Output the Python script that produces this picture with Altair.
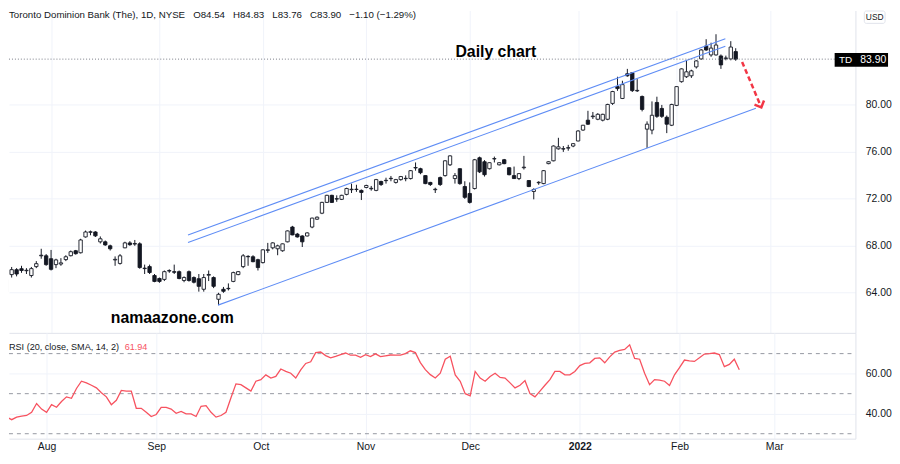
import altair as alt
import pandas as pd

# ---------------- data ----------------
idx = list(range(-9, 140))

opens = [64.1, 65.55, 65.97, 66.05, 65.88, 65.47, 66.23, 67.15, 67.15,
         66.9, 66.4, 66.45, 66.83, 67.16, 67.58, 67.41, 68.76, 69.15, 69.18,
         68.34, 68.34, 68.0, 66.8, 66.5, 67.83, 68.25, 68.15, 68.17, 66.1,
         66.23, 65.47, 65.22, 65.14, 65.85, 65.8, 65.8, 65.05, 65.8, 65.3,
         65.2, 64.3, 65.5, 65.3, 63.45, 64.3, 64.35, 64.97, 65.55, 66.23,
         67.1, 67.07, 66.82, 66.57, 67.62, 67.83, 67.75, 67.58, 68.34, 69.6,
         69.0, 68.84, 68.84, 69.6, 70.27, 70.78, 71.7, 72.3, 71.98, 71.96,
         72.38, 72.78, 72.8, 72.72, 72.97, 72.86, 72.72, 73.48, 73.55, 73.72,
         73.4, 73.64, 73.72, 73.73, 74.63, 74.57, 73.98, 73.4, 72.78, 73.81,
         73.98, 74.9, 73.73, 74.57, 73.05, 72.46, 72.88, 75.5, 75.16, 74.57,
         75.4, 74.9, 75.33, 74.65, 73.98, 73.73, 74.65, 73.56, 72.63, 73.37,
         73.3, 75.0, 75.24, 76.26, 76.24, 76.32, 76.5, 76.93, 77.86, 78.7,
         79.0, 78.78, 78.7, 78.78, 80.13, 81.56, 80.55, 82.65, 82.74, 81.2,
         80.72, 77.94, 77.86, 80.21, 79.7, 78.95, 78.27, 79.96, 81.98, 82.4,
         82.48, 83.24, 83.92, 85.01, 84.26, 84.26, 84.17, 83.95, 83.92, 84.54]

highs = [65.3, 66.2, 66.1, 66.3, 66.1, 66.2, 66.7, 67.75, 67.3,
         67.65, 66.9, 66.95, 67.2, 67.6, 67.65, 68.6, 69.3, 69.3, 69.25,
         68.8, 68.45, 68.1, 67.1, 67.3, 68.35, 68.4, 68.5, 68.3, 66.4,
         66.4, 65.6, 65.3, 65.9, 66.0, 66.4, 65.9, 65.4, 65.9, 65.4,
         65.6, 65.6, 65.9, 65.4, 64.0, 64.5, 64.8, 65.8, 65.85, 67.3,
         67.2, 67.2, 66.9, 67.7, 68.25, 68.3, 68.1, 68.2, 69.3, 69.7,
         69.1, 68.9, 69.15, 70.4, 70.5, 71.75, 72.35, 72.35, 72.3, 72.35,
         72.95, 73.3, 73.2, 72.8, 73.2, 73.1, 73.7, 73.55, 73.8, 73.95,
         73.7, 73.95, 74.0, 74.45, 75.1, 74.65, 74.0, 73.45, 72.95, 73.9,
         75.3, 75.7, 74.2, 74.6, 73.5, 73.4, 75.4, 75.6, 75.3, 75.1,
         75.6, 75.1, 75.4, 74.7, 74.75, 74.2, 75.66, 73.6, 72.9, 73.5,
         74.45, 75.2, 76.55, 77.2, 76.5, 76.6, 76.75, 77.85, 78.3, 79.5,
         79.4, 79.3, 79.25, 80.1, 81.2, 82.4, 82.06, 83.07, 82.8, 82.2,
         80.8, 78.6, 80.3, 80.7, 80.0, 79.1, 80.1, 81.6, 83.1, 83.83,
         83.0, 83.8, 84.75, 85.6, 85.3, 86.02, 84.3, 84.2, 85.43, 84.83]

lows = [63.9, 65.3, 65.4, 65.7, 65.6, 65.3, 66.1, 66.9, 66.3,
        65.9, 66.1, 66.3, 66.7, 67.1, 67.25, 67.35, 68.7, 68.9, 68.75,
        68.2, 68.0, 67.6, 66.3, 66.4, 67.8, 68.0, 68.0, 66.05, 65.6,
        65.6, 64.9, 64.85, 65.0, 65.7, 65.6, 65.15, 64.9, 64.95, 64.8,
        64.1, 64.1, 65.0, 64.4, 62.95, 64.0, 64.2, 64.9, 65.5, 66.1,
        66.3, 66.6, 65.9, 66.5, 67.4, 67.7, 67.2, 67.5, 68.3, 68.9,
        68.7, 67.9, 68.8, 69.5, 70.2, 70.7, 71.65, 71.65, 71.75, 71.9,
        72.3, 72.5, 72.6, 71.9, 72.9, 72.7, 72.65, 73.1, 73.3, 73.5,
        73.3, 73.55, 73.5, 73.65, 74.4, 74.1, 73.25, 73.1, 72.5, 73.1,
        73.9, 74.8, 73.3, 73.2, 72.0, 71.6, 72.8, 74.2, 73.9, 74.5,
        75.1, 74.85, 74.95, 74.0, 73.7, 73.6, 74.5, 73.0, 71.96, 73.2,
        73.25, 74.95, 75.2, 76.2, 76.0, 76.1, 76.4, 76.9, 77.8, 78.3,
        78.8, 78.7, 78.6, 78.7, 80.0, 81.2, 80.5, 82.4, 81.1, 81.1,
        79.45, 76.34, 77.5, 78.9, 78.9, 77.6, 78.2, 79.9, 81.9, 82.3,
        82.3, 83.1, 83.85, 84.6, 84.1, 84.2, 83.07, 83.8, 83.8, 83.76]

closes = [65.1, 65.97, 65.6, 65.9, 65.92, 66.06, 66.48, 67.2, 66.4,
          66.0, 66.8, 66.55, 67.07, 67.5, 67.33, 68.5, 69.18, 69.2, 68.85,
          68.6, 68.08, 67.75, 66.85, 67.15, 68.25, 68.1, 68.2, 66.15, 66.06,
          65.73, 64.97, 64.97, 65.8, 65.9, 65.75, 65.22, 65.3, 65.05, 64.9,
          64.55, 65.3, 65.56, 64.55, 63.87, 64.13, 64.38, 65.72, 65.8, 67.15,
          67.07, 66.65, 66.15, 67.66, 67.66, 68.25, 68.0, 68.17, 69.27, 68.93,
          68.76, 68.34, 69.1, 70.36, 70.44, 71.7, 72.3, 71.7, 72.02, 72.3,
          72.88, 72.82, 72.82, 72.55, 73.14, 72.9, 73.64, 73.22, 73.58, 73.75,
          73.64, 73.9, 73.75, 74.4, 74.67, 74.23, 73.3, 73.22, 72.82, 73.22,
          75.24, 75.66, 73.98, 73.3, 72.13, 71.7, 75.33, 74.3, 74.06, 75.08,
          75.43, 75.08, 75.0, 74.06, 73.73, 74.15, 74.7, 73.05, 72.8, 73.41,
          74.4, 75.16, 76.5, 76.43, 76.28, 76.36, 76.7, 77.78, 78.27, 78.36,
          79.05, 79.2, 79.2, 80.04, 81.14, 81.39, 81.73, 82.48, 81.22, 81.24,
          79.62, 78.36, 79.12, 79.03, 79.03, 78.36, 80.04, 81.56, 83.07, 82.82,
          82.9, 83.75, 84.68, 84.68, 84.84, 85.1, 83.41, 84.0, 84.93, 83.90]

rsi = [33.8, 38.3, 37.0, 38.3, 38.8, 39.1, 40.7, 45.1, 42.3,
       40.7, 44.5, 43.2, 46.1, 48.4, 47.7, 52.6, 56.2, 55.4, 54.2,
       52.9, 50.5, 48.4, 44.5, 46.7, 51.6, 51.3, 51.3, 42.7, 42.7,
       40.7, 38.6, 39.6, 43.2, 43.2, 42.3, 40.2, 41.1, 39.9, 39.9,
       38.6, 43.7, 44.0, 40.7, 38.3, 39.1, 40.7, 48.0, 54.9, 54.5,
       52.9, 51.3, 56.2, 57.0, 59.4, 57.8, 58.6, 62.3, 61.1, 60.2,
       57.8, 61.9, 65.1, 65.9, 70.5, 70.8, 69.0, 67.9, 68.6, 69.5,
       70.3, 69.2, 69.2, 68.2, 69.5, 68.5, 69.9, 68.5, 68.9, 69.3,
       69.2, 69.3, 70.0, 71.4, 70.5, 65.5, 62.0, 59.5,
       57.8, 60.2,
       67.2, 68.7, 59.4, 56.2, 50.0, 48.9, 61.1, 57.8, 56.2, 58.6,
       60.2, 58.1, 57.8, 55.4, 52.9, 54.2, 56.5, 50.0, 48.4, 51.3,
       54.2, 57.0, 61.1, 61.1, 59.4, 59.4, 61.1, 64.0, 65.1, 65.4,
       67.6, 67.9, 65.4, 68.4, 70.8, 71.6, 72.1, 74.4, 67.6, 67.2,
       60.2, 54.5, 57.0, 56.8, 56.2, 54.1, 59.4, 63.0, 66.8, 66.4,
       66.1, 67.9, 69.8, 70.0, 70.3, 69.5, 63.5, 64.6, 67.2, 61.94]

month_idx = [0, 22, 43, 64, 85, 107, 127, 146]
month_lbl = ["Aug", "Sep", "Oct", "Nov", "Dec", "2022", "Feb", "Mar"]
price_ticks = [64, 68, 72, 76, 80]
rsi_ticks = [40, 60]
rsi_bands = [70, 50, 30]

chan_x0 = [27.8, 27.8, 33.9]
chan_y0 = [68.93, 68.28, 62.95]
chan_x1 = [136.9, 136.9, 143.1]
chan_y1 = [85.63, 84.99, 79.71]

arrow_x0, arrow_y0 = [140.3], [83.66]
arrow_x1, arrow_y1 = [144.2], [79.79]

last_price = 83.90
annot_txt = ["Daily chart", "namaazone.com"]
annot_x = [90.3, 24.6]
annot_y = [84.5, 61.85]

GAP = "\u00a0\u00a0\u00a0"
title_parts = ["Toronto Dominion Bank (The), 1D, NYSE", "O84.54", "H84.83", "L83.76",
               "C83.90", "\u22121.10 (\u22121.29%)"]
title_text = GAP.join(title_parts)
rsi_title = "RSI (20, close, SMA, 14, 2)"
rsi_last = "61.94"

# ---------------- frames ----------------
df = pd.DataFrame({"i": idx, "o": opens, "h": highs, "l": lows, "c": closes})
rsi_df = pd.DataFrame({"i": idx, "rsi": rsi})
chan_df = pd.DataFrame({"x0": chan_x0, "y0": chan_y0, "x1": chan_x1, "y1": chan_y1})
arrow_df = pd.DataFrame({"x0": arrow_x0, "y0": arrow_y0, "x1": arrow_x1, "y1": arrow_y1})
annot_df = pd.DataFrame({"t": annot_txt, "x": annot_x, "y": annot_y})
band_df = pd.DataFrame({"v": rsi_bands})
one = pd.DataFrame({"a": [0]})

FONT = "Liberation Sans"
TXT = "#131722"
GRID = "#f0f3fa"
SEP = "#e0e3eb"

xs = alt.Scale(domain=[-7.54, 162.3], nice=False, zero=False)
ys = alt.Scale(domain=[60.589, 88.042], nice=False, zero=False)
rs = alt.Scale(domain=[27.53, 80.37], nice=False, zero=False)

label_expr = "".join(f"datum.value == {v} ? '{l}' : " for v, l in zip(month_idx, month_lbl)) + "''"

x_axis_price = alt.Axis(values=month_idx, labels=False, ticks=False, domain=True,
                        domainColor=SEP, grid=True, gridColor=GRID, title=None,
                        orient="bottom", minExtent=0)
x_axis_rsi = alt.Axis(values=month_idx, labelExpr=label_expr, ticks=False, domain=True,
                      domainColor=SEP, grid=True, gridColor=GRID, title=None,
                      labelFontSize=10.5, labelColor=TXT, labelPadding=3, labelFont=FONT,
                      labelFontWeight={"condition": {"test": "datum.value == 107", "value": "bold"},
                                       "value": "normal"},
                      minExtent=0)
y_axis_price = alt.Axis(values=price_ticks, format=".2f", orient="right", ticks=False,
                        domain=True, domainColor=SEP, grid=True, gridColor=GRID, title=None,
                        labelFontSize=10.5, labelColor=TXT, labelPadding=10, labelFont=FONT)
y_axis_rsi = alt.Axis(values=rsi_ticks, format=".2f", orient="right", ticks=False,
                      domain=True, domainColor=SEP, grid=True, gridColor=GRID, title=None,
                      labelFontSize=10.5, labelColor=TXT, labelPadding=10, labelFont=FONT)

base = alt.Chart(df)
wick = base.mark_rule(color=TXT, strokeWidth=1, clip=True).encode(
    x=alt.X("i:Q", scale=xs, axis=x_axis_price),
    y=alt.Y("l:Q", scale=ys, axis=y_axis_price),
    y2="h:Q",
)
body = base.mark_bar(size=3.4, stroke=TXT, strokeWidth=0.9, clip=True).encode(
    x=alt.X("i:Q", scale=xs),
    y=alt.Y("o:Q", scale=ys),
    y2="c:Q",
    fill=alt.condition("datum.c >= datum.o", alt.value("#ffffff"), alt.value(TXT)),
)
chan = alt.Chart(chan_df).mark_rule(color="#5f8df5", strokeWidth=1.1).encode(
    x=alt.X("x0:Q", scale=xs), y=alt.Y("y0:Q", scale=ys), x2="x1:Q", y2="y1:Q")
lastline = alt.Chart(one).mark_rule(color="#787b86", strokeDash=[1, 2], strokeWidth=1).encode(
    y=alt.Y(datum=last_price, scale=ys))
arrow_line = alt.Chart(arrow_df).mark_rule(color="#f23645", strokeWidth=2.5, strokeDash=[5, 3]).encode(
    x=alt.X("x0:Q", scale=xs), y=alt.Y("y0:Q", scale=ys), x2="x1:Q", y2="y1:Q")
arrow_head = alt.Chart(arrow_df).mark_point(
    shape="M -1 -1 L 0 0 L 1 -1", filled=False, color="#f23645", strokeWidth=2.5,
    size=110, angle=336.5, opacity=1).encode(
    x=alt.X("x1:Q", scale=xs), y=alt.Y("y1:Q", scale=ys))
annot = alt.Chart(annot_df).mark_text(fontSize=16, fontWeight="bold", font=FONT, color="#000000").encode(
    x=alt.X("x:Q", scale=xs), y=alt.Y("y:Q", scale=ys), text="t:N")

hdr = alt.Chart(one).mark_text(text=title_text, align="left", baseline="middle",
                               fontSize=9.8, font=FONT, color=TXT).encode(
    x=alt.value(0), y=alt.value(5))
td_box = alt.Chart(one).mark_rect(color="#000000").encode(
    x=alt.value(835), x2=alt.value(889), y=alt.value(43), y2=alt.value(57))
td_t1 = alt.Chart(one).mark_text(text="TD", align="center", baseline="middle",
                                 fontSize=10, font=FONT, color="#ffffff").encode(
    x=alt.value(846), y=alt.value(50.5))
td_t2 = alt.Chart(one).mark_text(text="83.90", align="center", baseline="middle",
                                 fontSize=10.5, font=FONT, color="#ffffff").encode(
    x=alt.value(874), y=alt.value(50.5))
usd_box = alt.Chart(one).mark_rect(fill="#ffffff", stroke=SEP, strokeWidth=1, cornerRadius=2).encode(
    x=alt.value(865), x2=alt.value(886), y=alt.value(0.5), y2=alt.value(13))
usd_t = alt.Chart(one).mark_text(text="USD", align="center", baseline="middle",
                                 fontSize=8.5, font=FONT, color=TXT).encode(
    x=alt.value(875.5), y=alt.value(7))

price = alt.layer(wick, body, chan, lastline, arrow_line, arrow_head, annot,
                  hdr, td_box, td_t1, td_t2, usd_box, usd_t).properties(width=856, height=326)

bands = alt.Chart(band_df).mark_rule(color="#9598a1", strokeDash=[4, 4], strokeWidth=1).encode(
    x=alt.X(datum=-7.54, scale=xs, axis=x_axis_rsi), x2=alt.X2(datum=162.3),
    y=alt.Y("v:Q", scale=rs, axis=y_axis_rsi))
rsi_line = alt.Chart(rsi_df).mark_line(color="#f7525f", strokeWidth=1.3, clip=True).encode(
    x=alt.X("i:Q", scale=xs), y=alt.Y("rsi:Q", scale=rs))
rsi_t1 = alt.Chart(one).mark_text(text=rsi_title, align="left", baseline="middle",
                                  fontSize=9.2, font=FONT, color=TXT).encode(
    x=alt.value(0), y=alt.value(14))
rsi_t2 = alt.Chart(one).mark_text(text=rsi_last, align="left", baseline="middle",
                                  fontSize=9.2, font=FONT, color="#f7525f").encode(
    x=alt.value(117), y=alt.value(14))

rsi_panel = alt.layer(bands, rsi_line, rsi_t1, rsi_t2).properties(width=856, height=107)

chart = alt.vconcat(price, rsi_panel, spacing=0).properties(
    padding=0, background="#ffffff"
).configure_view(strokeWidth=0)

chart.save("out.html", embed_options={"renderer": "svg", "actions": False})
